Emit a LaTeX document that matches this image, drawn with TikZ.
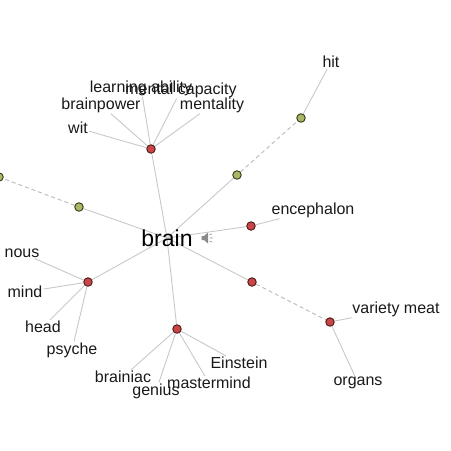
\documentclass[tikz,border=0pt]{standalone}
\usepackage{fontspec}
\setmainfont{Liberation Sans}
\usetikzlibrary{backgrounds}
\definecolor{cedge}{HTML}{C8C8C8}
\definecolor{cdash}{HTML}{BEBEBE}
\definecolor{cred}{HTML}{CC4444}
\definecolor{credborder}{HTML}{4A1A1A}
\definecolor{colive}{HTML}{A8B866}
\definecolor{coliveborder}{HTML}{343A18}
\definecolor{cicon}{HTML}{8A8A8A}

\begin{document}
\begin{tikzpicture}[
    x=1pt, y=-1pt,
    rnode/.style={circle, draw=credborder, fill=cred, line width=0.9pt, inner sep=0pt, minimum size=8.5pt},
    onode/.style={circle, draw=coliveborder, fill=colive, line width=0.9pt, inner sep=0pt, minimum size=8.5pt},
    word/.style={inner sep=1pt, font=\fontsize{16}{19}\selectfont, text=black!90},
    hubword/.style={inner sep=0pt, font=\fontsize{23}{27}\selectfont},
    edge/.style={draw=cedge, line width=0.9pt},
    dedge/.style={draw=cdash, line width=1pt, dash pattern=on 4pt off 3pt}
]
\clip (0,0) rectangle (451,451);
\useasboundingbox (0,0) rectangle (451,451);
% centre word
\node[hubword] (brain) at (167,238) {brain};
% sense nodes
\node[rnode] (s1) at (151,149) {};
\node[onode] (o1) at (237,175) {};
\node[onode] (o2) at (301,118) {};
\node[onode] (o3) at (79,207) {};
\node[onode] (o4) at (-1,177) {};
\node[rnode] (s2) at (251,226) {};
\node[rnode] (s3) at (252,282) {};
\node[rnode] (s4) at (330,322) {};
\node[rnode] (s5) at (88,282) {};
\node[rnode] (s6) at (177,329) {};
% labels
\node[word] (learn) at (141,88) {learning ability};
\node[word] (mcap) at (181,90) {mental capacity};
\node[word] (bpow) at (101,105) {brainpower};
\node[word] (ment) at (212,105) {mentality};
\node[word] (wit) at (78,128) {wit};
\node[word] (hit) at (331,62) {hit};
\node[word] (ence) at (313,210) {encephalon};
\node[word] (vmeat) at (396,309) {variety meat};
\node[word] (organs) at (358,383) {organs};
\node[word] (nous) at (22,253) {nous};
\node[word] (mind) at (25,292) {mind};
\node[word] (head) at (43,327) {head};
\node[word] (psyche) at (72,350) {psyche};
\node[word] (einst) at (239,363) {Einstein};
\node[word] (mmind) at (209,383) {mastermind};
\node[word] (genius) at (156,391) {genius};
\node[word] (bniac) at (123,377) {brainiac};
% speaker icon
\fill[cicon] (201.5,236) -- (204,236) -- (208,232.5) -- (208,243.5) -- (204,240) -- (201.5,240) -- cycle;
\draw[cicon, line width=0.6pt] (209.5,235) -- (212,234) (209.5,238) -- (212.5,238) (209.5,241) -- (212,242);
% connectors
\begin{scope}[on background layer]
\draw[edge] (brain.center) -- (s1);
\draw[edge] (brain.center) -- (o1);
\draw[edge] (brain.center) -- (o3);
\draw[edge] (brain.center) -- (s2);
\draw[edge] (brain.center) -- (s3);
\draw[edge] (brain.center) -- (s5);
\draw[edge] (brain.center) -- (s6);
\draw[dedge] (o1) -- (o2);
\draw[dedge] (o3) -- (o4);
\draw[dedge] (s3) -- (s4);
\draw[edge] (o2) -- (hit);
\foreach \w in {learn,mcap,bpow,ment,wit}
    \draw[edge] (s1) -- (\w);
\draw[edge] (s2) -- (ence);
\draw[edge] (s4) -- (vmeat);
\draw[edge] (s4) -- (organs);
\foreach \w in {nous,mind,head,psyche}
    \draw[edge] (s5) -- (\w);
\foreach \w in {einst,mmind,genius,bniac}
    \draw[edge] (s6) -- (\w);
\end{scope}
\end{tikzpicture}
\end{document}
